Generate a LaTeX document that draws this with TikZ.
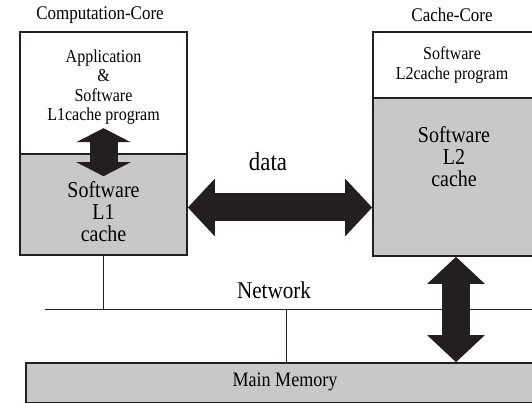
\documentclass[tikz,border=0pt]{standalone}
\usepackage{fontspec}
\setmainfont[FakeStretch=0.88]{Liberation Serif}
\usetikzlibrary{positioning,calc,arrows.meta}
\definecolor{cachegray}{RGB}{200,200,200}
\definecolor{arrowblack}{RGB}{35,31,32}
\tikzset{
    corebox/.style={rectangle, draw=arrowblack, line width=1.6pt, inner sep=0pt},
    progbox/.style={corebox, fill=white},
    cachebox/.style={corebox, fill=cachegray},
    coretitle/.style={font=\fontsize{19.3}{21}\selectfont},
    progtext/.style={align=center, font=\fontsize{18.2}{19.5}\selectfont},
    cachetext/.style={align=center, font=\fontsize{22.7}{22}\selectfont},
    bus/.style={draw=arrowblack, line width=0.9pt},
    bigarrow/.style={draw=arrowblack, line width=28pt, {Triangle[length=27pt,width=56pt]}-{Triangle[length=27pt,width=56pt]}},
    smallarrow/.style={draw=arrowblack, line width=28pt, {Triangle[length=14pt,width=54pt]}-{Triangle[length=14pt,width=54pt]}}
}
\begin{document}
\begin{tikzpicture}[x=1pt, y=1pt]
    \useasboundingbox (0,0) rectangle (532,403);

    % Computation core
    \node [progbox, minimum width=167pt, minimum height=122pt] (l1up) at (103.5,310) {};
    \node [cachebox, minimum width=167pt, minimum height=101pt] (l1low) at (103.5,198.5) {};
    \node [coretitle] (comptitle) at (100,388) {Computation-Core};
    \node [progtext] (apptext) at ($(l1up.center)+(0,6)$) {Application\\\&\\Software\\L1cache program};
    \node [cachetext] (l1text) at ($(l1low.center)+(0,-7)$) {Software\\L1\\cache};

    % Cache core
    \node [progbox, minimum width=162pt, minimum height=66pt] (l2up) at (454,338) {};
    \node [cachebox, minimum width=162pt, minimum height=158pt] (l2low) at (454,226) {};
    \node [coretitle] (cachetitle) at (452,388) {Cache-Core};
    \node [progtext] (l2prog) at (452,338) {Software\\L2cache program};
    \node [cachetext] (l2text) at ($(l2low.center)+(0,20)$) {Software\\L2\\cache};

    % Main memory and network
    \node [cachebox, minimum width=510pt, minimum height=40pt] (mem) at (281,20) {};
    \node [font=\fontsize{20.5}{22}\selectfont] (memtext) at (285,21) {Main Memory};
    \coordinate (netL) at (45,94);
    \coordinate (netR) at (532,94);
    \coordinate (tap) at (286,94);
    \node [font=\fontsize{24}{26}\selectfont] (nettext) at (274,113) {Network};

    % Connections
    \path [bus] (netL) -- (netR);
    \path [bus] (l1low.south) -- (l1low.south |- netL);
    \path [bus] (tap) -- (tap |- mem.north);

    \node [font=\fontsize{26}{28}\selectfont] (datatext) at (268,241) {data};
    \path [bigarrow] ([yshift=-3pt]l1low.east) -- ([yshift=-3pt]l1low.east -| l2low.west);
    \path [smallarrow] ($(l1low.north)+(0,25)$) -- ($(l1low.north)+(0,-23)$);
    \path [bigarrow] ([xshift=2pt]l2low.south) -- ([xshift=2pt]l2low.south |- mem.north);
\end{tikzpicture}
\end{document}
